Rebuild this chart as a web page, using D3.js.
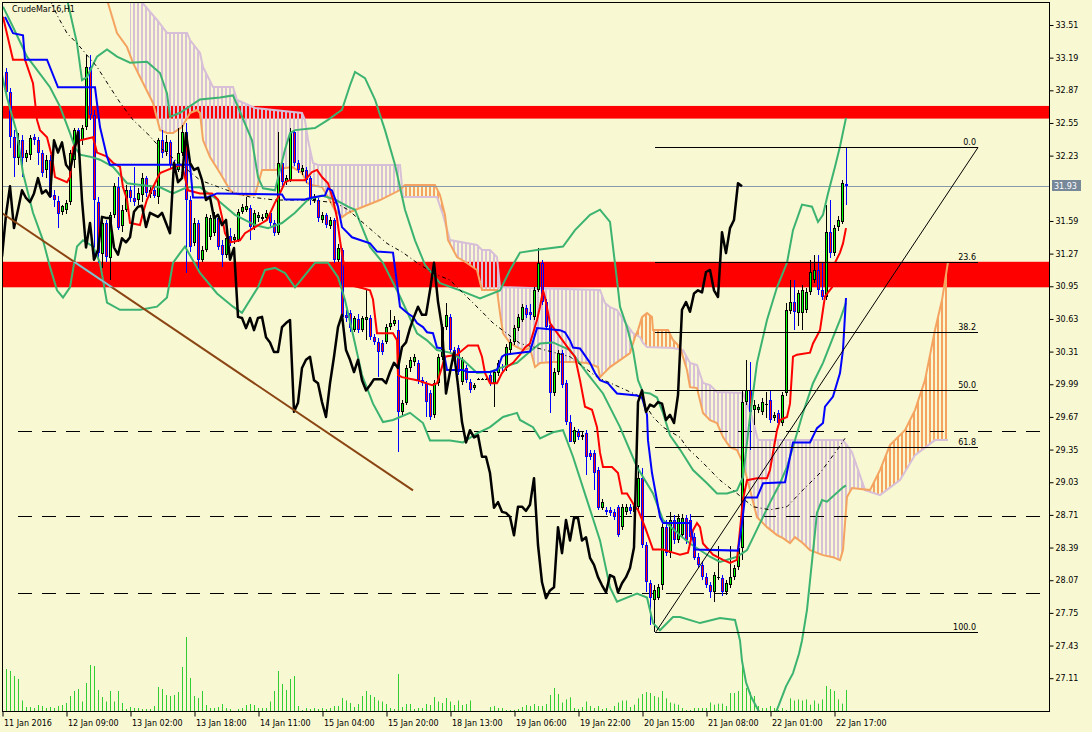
<!DOCTYPE html>
<html><head><meta charset="utf-8">
<script src="https://cdn.jsdelivr.net/npm/d3@7"></script>
<style>html,body{margin:0;padding:0;background:#f8f8d2;overflow:hidden}svg{display:block}</style>
</head><body><svg id="c" width="1092" height="732"></svg>
<script>
// ---------- DATA (CrudeMar16, H1) ----------
const title = "CrudeMar16,H1";
const xTickIdx = [-1,15,31,47,63,79,95,111,127,143,159,175,191,207];
const xTickLabels = ["11 Jan 2016","12 Jan 09:00","13 Jan 02:00","13 Jan 18:00","14 Jan 11:00","15 Jan 04:00","15 Jan 20:00","18 Jan 13:00","19 Jan 06:00","19 Jan 22:00","20 Jan 15:00","21 Jan 08:00","22 Jan 01:00","22 Jan 17:00"];
const yTicks = [33.51,33.19,32.87,32.55,32.23,31.59,31.27,30.95,30.63,30.31,29.99,29.67,29.35,29.03,28.71,28.39,28.07,27.75,27.43,27.11];

const opens = [33.05,32.85,32.41,32.21,32.38,32.21,32.24,32.41,32.38,32.26,
32.09,32.19,31.84,31.79,31.68,31.70,31.775,32.19,32.48,32.38,
32.51,33.10,32.63,31.78,31.27,31.57,31.23,31.65,31.92,31.54,
31.70,31.89,31.815,31.795,31.84,32.01,31.85,31.89,31.825,32.38,
32.27,32.36,32.14,32.09,32.26,32.46,31.795,31.37,31.57,31.21,
31.305,31.43,31.47,31.62,31.35,31.26,31.44,31.40,31.40,31.68,
31.70,31.72,31.53,31.62,31.61,31.62,31.67,31.57,31.47,32.16,
31.97,31.99,32.46,32.16,32.07,32.09,32.01,31.795,31.795,31.60,
31.65,31.54,31.60,31.21,31.305,30.67,30.69,30.52,30.63,30.52,
30.62,30.64,30.45,30.40,30.39,30.40,30.55,30.58,30.52,29.72,
29.81,30.15,30.21,30.20,30.03,29.99,29.90,29.69,30.00,30.26,
30.55,30.65,30.325,30.345,30.01,30.15,30.01,29.95,30.04,30.04,
30.04,30.08,30.00,30.10,30.16,30.15,30.325,30.40,30.54,30.62,
30.74,30.70,30.65,30.91,31.18,30.80,30.57,29.90,30.11,30.30,
30.00,29.62,29.42,29.52,29.47,29.51,29.32,29.32,29.15,28.78,
28.76,28.76,28.74,28.79,28.59,28.74,28.79,28.74,28.79,29.07,
28.415,28.04,27.875,27.895,28.02,28.59,28.335,28.66,28.46,28.51,
28.68,28.66,28.49,28.30,28.22,28.10,28.02,27.95,28.09,28.09,
27.95,28.02,28.10,28.20,28.39,29.815,29.93,29.74,29.74,29.72,
29.79,29.835,29.66,29.71,29.61,29.90,30.71,30.795,30.69,30.69,
30.72,30.89,31.01,31.11,30.91,30.845,31.48,31.275,31.53,31.58,31.95];
const highs = [33.09,32.89,32.48,32.45,32.43,32.29,32.43,32.44,32.41,32.29,
32.24,32.24,31.89,31.83,31.75,31.80,32.29,32.50,32.50,32.53,
33.22,33.22,32.68,31.82,31.60,31.60,31.68,31.96,32.02,31.75,
31.94,31.93,32.12,31.91,32.06,32.03,31.93,31.92,32.40,32.48,
32.43,32.38,32.19,32.50,32.53,32.55,31.83,31.62,31.60,31.34,
31.66,31.65,31.68,31.64,31.40,31.45,31.52,31.46,31.71,31.76,
31.825,31.75,31.70,31.68,31.66,31.70,31.69,31.60,32.46,32.19,
32.04,32.50,32.48,32.19,32.14,32.12,32.03,31.85,31.815,31.68,
31.67,31.63,31.62,31.36,31.325,30.72,30.72,30.66,30.68,30.66,
30.91,30.67,30.48,30.44,30.42,30.58,30.72,30.66,30.62,29.835,
30.18,30.26,30.29,30.23,30.06,30.02,29.93,30.03,30.29,30.58,
30.79,30.68,30.355,30.37,30.26,30.18,30.04,30.00,30.05,30.05,
30.05,30.11,30.14,30.23,30.19,30.38,30.43,30.57,30.68,30.775,
30.77,30.775,30.94,31.325,31.21,30.83,30.60,30.15,30.325,30.325,
30.03,29.69,29.57,29.55,29.52,29.54,29.345,29.345,29.18,28.87,
28.79,28.79,28.77,28.81,28.82,28.82,28.82,28.84,29.20,29.17,
28.44,28.07,28.02,28.03,28.62,28.66,28.74,28.71,28.72,28.72,
28.71,28.72,28.53,28.34,28.26,28.14,28.05,28.15,28.41,28.12,
28.07,28.41,28.22,28.42,29.93,30.23,30.21,29.835,29.80,29.855,
29.91,29.93,29.72,29.74,29.91,30.785,31.01,31.01,30.91,30.96,
30.93,31.21,31.26,31.26,31.19,31.75,31.795,31.55,31.64,31.99,32.315];
const lows = [32.82,32.30,32.02,32.14,32.02,32.17,32.19,32.33,32.14,32.02,
32.01,31.815,31.73,31.52,31.65,31.66,31.75,32.11,32.29,32.33,
32.48,32.58,31.21,31.18,31.13,31.19,31.01,31.62,31.50,31.48,
31.68,31.775,31.74,31.75,31.775,31.825,31.815,31.815,31.76,32.21,
32.23,32.11,32.06,32.07,32.23,31.08,31.285,31.34,31.11,31.19,
31.285,31.40,31.44,31.305,31.14,31.23,31.34,31.36,31.38,31.66,
31.68,31.40,31.50,31.58,31.59,31.60,31.54,31.44,31.45,31.93,
31.94,31.97,32.13,32.06,32.04,31.96,31.75,31.765,31.58,31.57,
31.52,31.51,31.18,31.19,30.62,30.60,30.50,30.50,30.49,30.50,
30.42,30.42,30.37,30.06,30.28,30.38,30.52,30.56,29.325,29.69,
29.79,30.11,30.17,29.99,29.97,29.67,29.64,29.66,29.97,30.23,
30.52,30.30,30.19,30.08,29.98,30.00,29.90,29.93,30.03,30.03,
30.03,29.97,29.77,30.07,30.12,30.12,30.30,30.37,30.51,30.60,
30.64,30.62,30.62,30.89,30.77,30.52,29.71,29.875,30.08,29.95,
29.59,29.42,29.40,29.44,29.44,29.10,29.25,28.95,28.76,28.76,
28.71,28.70,28.66,28.49,28.56,28.71,28.72,28.71,28.76,28.385,
27.95,27.63,27.56,27.875,27.97,28.305,28.29,28.42,28.43,28.48,
28.42,28.46,28.27,28.19,28.07,27.99,27.90,27.855,28.07,27.915,
27.925,27.99,28.07,28.17,28.27,29.79,29.345,29.59,29.71,29.69,
29.66,29.61,29.63,29.58,29.58,29.875,30.68,30.52,30.56,30.52,
30.69,30.865,30.98,30.865,30.815,30.815,31.23,31.25,31.49,31.56,31.75];
const closes = [32.85,32.41,32.21,32.38,32.21,32.26,32.40,32.38,32.26,32.06,
32.19,31.82,31.80,31.66,31.74,31.77,32.26,32.48,32.35,32.50,
33.10,32.63,31.80,31.28,31.57,31.24,31.65,31.93,31.52,31.70,
31.89,31.815,31.775,31.86,32.01,31.86,31.89,31.83,32.38,32.26,
32.36,32.14,32.09,32.26,32.46,31.795,31.33,31.57,31.21,31.305,
31.63,31.62,31.62,31.33,31.26,31.42,31.38,31.43,31.68,31.73,
31.74,31.53,31.67,31.65,31.63,31.67,31.57,31.47,32.16,31.97,
32.01,32.45,32.16,32.09,32.11,31.99,31.795,31.825,31.62,31.65,
31.55,31.60,31.21,31.325,30.65,30.64,30.54,30.64,30.52,30.64,
30.65,30.45,30.40,30.305,30.305,30.55,30.59,30.62,29.72,29.81,
30.15,30.23,30.26,30.03,30.00,29.815,29.67,30.00,30.26,30.55,
30.67,30.325,30.23,30.11,30.23,30.03,29.93,29.98,30.04,30.04,
30.04,30.00,30.11,30.20,30.15,30.355,30.40,30.54,30.65,30.75,
30.67,30.67,30.91,31.18,30.80,30.55,29.90,30.11,30.30,29.98,
29.62,29.42,29.54,29.47,29.49,29.28,29.28,29.12,28.78,28.835,
28.74,28.73,28.69,28.51,28.79,28.79,28.75,28.81,29.07,28.415,
28.05,27.895,27.97,28.00,28.59,28.335,28.66,28.46,28.68,28.68,
28.46,28.49,28.29,28.22,28.10,28.02,27.95,28.12,28.10,27.95,
28.04,28.10,28.19,28.39,29.815,29.93,29.72,29.79,29.77,29.815,
29.80,29.64,29.69,29.61,29.885,30.72,30.795,30.70,30.88,30.91,
30.89,31.09,31.11,30.91,30.845,31.48,31.275,31.52,31.60,31.96,31.93];
const volumes = [42,40,35,32,10.5,4,4,3,6,5, 3,4,3,5,6,8,15,20,22,9.5,
28,46,45,21,14,9.5,20,9.5,20,8, 2,4,3,3,2,2,2,5,24,22,
16,15,16,19,44,74,33,15,13,20, 6,3,3,4,7,3,2,0,2,3,
6,7,6,3,3,3,9.5,20,40,27, 21,32,35,5,1,3,2,3,2,3,
2,3,5,5,13,10.5,8,4,7,15, 20,16,14,10.5,9.5,7,3,2,37,4,
7,7,2,3,3,7,6,14,9.5,8, 13,9.5,6,10.5,6,7,10.5,0,0,0,
0,4,5,3,3,1,1,1,2,4, 6,5,7,5,
5,7,16,23,17,8.5,11.6,13.7,3,2, 4,9.5,5,3,5,2,3,1,5,8.5,
10.5,10.5,4,6.3,12.7,17,19,18,15,13.7, 20,12.7,8.5,7.4,6.3,3,1,1,3,3,
3,3,8.5,6.3,7.4,7.4,5,18,18,20, 50,23,19,15,5,3,3,5,3,1,
3,1,12.7,10.5,11.6,10.5,11.6,6.3,10.5,7.4, 11.6,25,22,20,11.6,7.4,21];

// Ichimoku: [bar index, price]
const tenkan = [[-0.75,33.59],[1.75,33.17],[4.75,33.17],[6.75,32.94],[7.75,32.58],[8.5,32.48],[10.25,32.41],[11.5,32.22],[12.25,32.02],[15.25,31.97],[16,32.02],[16.75,32.31],[18.5,32.38],[21.75,32.41],[22.75,32.26],[25.25,32.22],[26.75,32.16],[28.5,32.12],[29.25,31.92],[30.25,31.80],[31,31.57],[33.5,31.55],[34.25,31.67],[35.25,31.80],[36.75,31.92],[38.5,32.06],[42.25,32.12],[44,32.14],[45.5,31.89],[48.5,31.86],[51.5,31.86],[53,31.80],[54,31.63],[54.75,31.47],[56,31.38],[58.5,31.40],[59.75,31.47],[62.25,31.53],[64,31.57],[65.25,31.60],[67.25,31.77],[68,31.82],[69.75,31.97],[71,31.99],[74.75,31.99],[76.5,32.07],[77.75,32.09],[79,32.02],[80.5,31.96],[81.75,31.80],[82.75,31.62],[83.5,31.40],[84.25,31.21],[86,30.96],[89.25,30.93],[91,30.91],[91.75,30.82],[92.75,30.49],[96.75,30.49],[97.75,30.42],[98,30.08],[99,30.06],[102.75,30.03],[106.5,29.98],[107.75,30.00],[109,30.16],[109.75,30.26],[112.75,30.28],[115.5,30.37],[118,30.37],[119,30.26],[119.75,30.10],[121,30.00],[122.75,30.00],[124,30.10],[125.25,30.16],[126.75,30.20],[128.5,30.28],[129.75,30.35],[131,30.39],[132.75,30.62],[133.5,30.75],[134.25,30.91],[134.75,30.84],[136,30.59],[141,30.32],[142.25,30.26],[143.5,30.03],[144.75,29.77],[146.5,29.74],[147.75,29.57],[148.5,29.32],[149.25,29.18],[151.5,29.18],[153,29.12],[154,28.92],[155.25,28.92],[157.25,28.79],[158,28.76],[159.75,28.59],[161.75,28.37],[164.25,28.37],[166.75,28.34],[168.5,28.32],[170.5,28.34],[171.75,28.56],[172.75,28.63],[173.5,28.59],[174.25,28.43],[176.75,28.32],[179.25,28.27],[181,28.24],[182.75,28.27],[184.25,28.86],[185.25,29.05],[187.75,29.07],[190.25,29.07],[191,29.15],[191.75,29.32],[192.75,29.54],[193.5,29.64],[195.25,29.67],[196,29.80],[196.75,30.26],[197.75,30.28],[201,30.30],[201.75,30.39],[203.5,30.52],[204.25,30.72],[204.75,30.85],[206.5,30.94],[207.25,31.18],[208.5,31.28],[209.25,31.37],[210,31.52]];
const kijun = [[-0.25,33.59],[1.75,33.43],[4.25,33.41],[4.75,33.17],[10.25,33.17],[13,32.90],[22.25,32.90],[23.5,32.51],[25.25,32.22],[26,32.14],[46,32.14],[46.75,31.82],[50.25,31.82],[52.75,31.86],[69,31.85],[69.75,31.80],[74.75,31.80],[76.5,31.82],[79.75,31.84],[80.5,31.91],[81.5,31.89],[83,31.73],[84,31.53],[86.5,31.43],[91,31.37],[92.75,31.29],[96.75,31.28],[98.5,30.75],[100.25,30.69],[101.75,30.65],[102.75,30.59],[104.25,30.55],[105.25,30.50],[106.75,30.49],[107.75,30.35],[109.25,30.34],[110.25,30.13],[114.25,30.13],[115.25,30.11],[121,30.11],[122.75,30.13],[124,30.26],[124.75,30.28],[131,30.31],[132.75,30.54],[138.5,30.52],[139.75,30.50],[141,30.42],[141.75,30.35],[143.5,30.34],[144.25,30.30],[146,30.20],[147.25,30.10],[148.5,30.03],[150.5,30.00],[152.75,29.90],[157.75,29.88],[159,29.86],[160.25,29.69],[160.5,29.44],[161.5,29.12],[163.5,28.69],[164.25,28.63],[171,28.63],[172.25,28.37],[183,28.36],[184,28.63],[184.75,28.88],[187.75,28.88],[189.25,29.02],[194.75,29.03],[196,29.28],[196.75,29.42],[201,29.42],[202.75,29.56],[204.25,29.61],[204.75,29.77],[206.75,29.87],[208.5,30.10],[209.25,30.33],[210,30.835]];
const spanA = [[22.25,34.05],[25.5,33.726],[27.75,33.432],[30.25,33.294],[31.75,33.138],[34.25,32.942],[36.75,32.746],[38.5,32.481],[40.25,32.452],[41.75,32.452],[44,32.51],[46,32.648],[47.75,32.677],[48.5,32.648],[49.25,32.383],[51,32.216],[53.5,32.06],[56,31.893],[56.75,31.864],[59,31.844],[62.25,31.844],[64,32.089],[67.25,32.089],[69.75,32.109],[71.5,32.118],[74,32.06],[75.25,31.962],[76.5,31.942],[79,31.922],[80.5,31.824],[82.25,31.697],[84,31.628],[85.5,31.668],[87.25,31.697],[93.5,31.795],[98.5,31.893],[99.75,31.942],[107.25,31.942],[108.5,31.844],[109.75,31.648],[110.5,31.403],[112.75,31.236],[115.25,31.178],[117.75,31.109],[119,30.913],[122.75,30.913],[123.5,30.687],[124.25,30.49],[126,30.394],[127.75,30.354],[129.25,30.325],[131,30.345],[132.25,30.158],[133.5,30.198],[136.75,30.207],[141.75,30.207],[145.25,30.198],[148,30.158],[148.5,30.06],[149.75,30.109],[151,30.158],[153.5,30.227],[156,30.296],[157.25,30.452],[158,30.521],[159,30.648],[160.25,30.688],[161.5,30.648],[161.75,30.521],[165.5,30.521],[166.75,30.423],[168.5,30.354],[170.25,30.129],[171,29.962],[172.75,29.953],[174.25,29.708],[176,29.639],[177.75,29.61],[179.25,29.472],[181,29.374],[182.75,29.345],[184.25,29.218],[186,28.953],[187.75,28.688],[190.25,28.59],[192.75,28.512],[194.25,28.482],[196,28.433],[197.25,28.492],[199.25,28.433],[201,28.365],[204.25,28.316],[206.75,28.296],[208.5,28.267],[209.25,28.365],[210.25,28.885],[211.5,28.973],[216,28.953],[218.5,29.149],[221,29.394],[224.75,29.541],[227.25,29.737],[229.75,30.031],[232.25,30.521],[234,30.815],[235.5,31.188]];
const spanB = [[31,34.05],[33.5,33.755],[37.75,33.559],[40.25,33.432],[45.25,33.432],[46,33.363],[48.5,33.236],[49.25,33.098],[51.75,32.902],[56.75,32.902],[57.75,32.775],[62.25,32.697],[74,32.648],[74.75,32.579],[75.5,32.383],[76.75,32.158],[78,32.138],[87.25,32.138],[98.5,32.138],[99.25,31.824],[107.75,31.824],[109.25,31.648],[111,31.403],[117.75,31.354],[119,31.305],[121,31.305],[122.75,31.236],[123.5,30.942],[131,30.933],[148.5,30.913],[149.75,30.786],[151,30.746],[152.75,30.717],[155.25,30.57],[156.75,30.492],[158.5,30.452],[159.25,30.394],[160.25,30.354],[166.75,30.345],[169.25,30.325],[171,30.198],[172.75,30.178],[174.25,30.002],[176,29.982],[177.75,29.913],[184.25,29.904],[186.5,29.668],[188,29.443],[209.25,29.443],[211.5,29.325],[214.75,28.953],[218.5,28.904],[223.5,29.051],[227.25,29.296],[232.25,29.443],[235.5,29.443]];
// Bollinger bands
const bbUpper = [[14.75,33.85],[17.75,33.33],[19,32.97],[20.25,33.00],[22.75,33.20],[25.25,33.27],[27.75,33.20],[31,33.14],[35.25,33.15],[38.5,33.04],[40.25,32.84],[41,32.61],[43.5,32.65],[48.5,32.78],[53.5,32.80],[56.75,32.82],[58.5,32.66],[61.5,32.38],[63,32.02],[64.25,31.91],[67.25,31.89],[69.75,32.29],[71,32.45],[72.25,32.48],[77.25,32.50],[80.5,32.58],[84,32.68],[86,32.92],[87.25,33.05],[89.75,32.99],[92.25,32.78],[94.75,32.48],[97.25,32.14],[99.75,31.70],[102.25,31.40],[104.75,31.16],[108.5,30.98],[113.5,30.91],[118.5,30.83],[123.5,30.91],[126,31.11],[128.5,31.28],[133.5,31.31],[139.25,31.34],[142.25,31.50],[146,31.65],[148.5,31.70],[151,31.58],[152.75,31.01],[153.5,30.75],[155.25,30.55],[156.75,30.325],[158,30.03],[159.25,29.91],[161,29.90],[162.75,29.86],[164.25,29.71],[166,29.49],[168.5,29.35],[171.75,29.15],[175.25,29.02],[177.75,28.92],[180.25,28.92],[182.75,28.95],[184.25,29.08],[186,29.67],[187.75,30.20],[190.25,30.62],[192.75,30.94],[195.25,31.18],[196.75,31.50],[199,31.75],[201.5,31.73],[203,31.58],[204.25,31.65],[205.5,31.86],[207.25,32.12],[208.5,32.32],[210,32.60]];
const bbMiddle = [[-0.75,33.69],[1.75,33.49],[5.25,33.20],[7.75,33.07],[11,32.90],[13.5,32.71],[16,32.45],[17.25,32.31],[18.5,32.24],[21,32.22],[23.5,32.19],[26.75,32.12],[30.25,31.96],[34.25,31.94],[38.5,31.92],[41.75,31.86],[45.25,31.92],[48.5,31.92],[52.75,31.80],[57.25,31.65],[62.25,31.55],[65.5,31.52],[69,31.57],[72.25,31.67],[75.5,31.80],[79,31.84],[82.25,31.80],[85.5,31.73],[87.25,31.70],[91,31.335],[94.25,31.18],[98.5,30.85],[102.75,30.49],[105.25,30.42],[107.75,30.325],[111,30.30],[114.25,30.23],[117.75,30.10],[121,30.11],[124.25,30.16],[127.75,30.20],[131,30.31],[133.5,30.39],[136.75,30.40],[141,30.325],[145.25,30.10],[149.25,29.90],[153.5,29.57],[157.75,29.18],[161.75,28.92],[164.25,28.66],[168.5,28.51],[171,28.43],[176,28.30],[178.5,28.25],[182.75,28.30],[185.25,28.365],[188.5,28.63],[191,28.83],[193.5,29.02],[195.25,29.18],[197.75,29.51],[199.25,29.71],[201.75,30.00],[204.25,30.20],[206.75,30.45],[208.5,30.62],[210,30.79]];
const bbLower = [[-1,33.02],[0.25,32.80],[2.75,32.45],[4.25,32.06],[6.75,31.67],[9.25,31.40],[11,31.14],[12.75,30.91],[14.25,30.84],[16,30.94],[17.75,31.34],[19.25,31.40],[21.75,31.34],[23.5,31.18],[25.25,30.79],[28.5,30.72],[33.5,30.72],[37.75,30.75],[40.25,30.84],[41.75,31.18],[43.5,31.275],[44.75,31.34],[48.5,31.08],[52.75,30.88],[56.75,30.75],[59,30.69],[63,30.94],[64.75,31.11],[67.25,31.13],[69.75,31.08],[72.25,30.94],[74.75,31.06],[77.25,31.18],[80.5,31.18],[83,31.04],[84.75,30.815],[86.5,30.52],[89,30.08],[91.75,29.80],[94.25,29.62],[96.75,29.64],[101,29.71],[104.25,29.61],[106,29.44],[111,29.44],[114.25,29.42],[117.75,29.51],[121,29.57],[124.25,29.67],[127.75,29.71],[128.5,29.64],[131.75,29.57],[133.5,29.46],[136.75,29.52],[139.25,29.54],[141.75,29.28],[145.25,28.855],[148.5,28.46],[151,28.00],[152.75,27.86],[155.25,27.90],[157.75,27.94],[160.25,27.90],[161.75,27.65],[163.5,27.58],[166.75,27.71],[168.5,27.71],[173.5,27.65],[178.5,27.70],[182.25,27.68],[183.5,27.48],[184,27.28],[185,27.07],[186.25,26.93],[188,26.80],[189.75,26.68],[191.5,26.68],[193.25,26.85],[195,27.03],[196.75,27.16],[198.25,27.35],[199,27.48],[200.25,27.78],[202.75,28.73],[204,28.855],[205.25,28.84],[209.25,28.98],[210,29.00]];
// slow moving average (dash-dot)
const maSlow = [[11,33.755],[13,33.59],[15.25,33.43],[17.75,33.33],[22.75,33.10],[26,32.90],[28.5,32.75],[31.75,32.58],[35.25,32.45],[38.5,32.31],[48.5,31.99],[56.75,31.87],[61,31.825],[67.25,31.795],[75.5,31.795],[82.25,31.77],[85.5,31.70],[95.25,31.37],[99.25,31.28],[102.75,31.18],[106.75,31.08],[111,31.01],[115.25,30.845],[119.25,30.69],[121.75,30.59],[128.5,30.39],[141,30.26],[147.75,30.06],[153.5,29.96],[158.5,29.87],[161.75,29.67],[164.25,29.57],[168.5,29.47],[170.25,29.37],[174.25,29.22],[178.5,29.05],[182.75,28.92],[186.75,28.79],[191,28.76],[195.25,28.79],[199.25,28.955],[203.5,29.12],[207.75,29.345],[209.75,29.46]];

// drawn objects
const zones = [[32.717,32.593],[31.19,30.94]];
const hLevels = [29.53,28.70,27.94];
const trendLine = [[-1.5,31.68],[101.75,28.95]];
const fibHigh = 32.31, fibLow = 27.565, fibStart = 162.25, fibEnd = 243;
const fibLevels = [0,23.6,38.2,50,61.8,100];
const fibLabels = ["0.0","23.6","38.2","50.0","61.8","100.0"];
const chikouShift = 26;

// ---------- DRAW ----------
const W=1092,H=732, X0=2,Y0=2,X1=1049,Y1=711;
const FONT='"DejaVu Sans", Verdana, sans-serif';
const svg=d3.select('#c');
svg.append('rect').attr('width',W).attr('height',H).attr('fill','#f8f8d2');
const x=d3.scaleLinear().domain([0,210]).range([6,846]);
const y=d3.scaleLinear().domain([27.11,33.51]).range([678.2,25]);
const yv=d3.scaleLinear().domain([0,100]).range([Y1,Y1-100]);
const px=d=>x(d[0]), py=d=>y(d[1]);
const line=d3.line().x(px).y(py);

const defs=svg.append('defs');
defs.append('clipPath').attr('id','plotClip').append('rect').attr('x',X0).attr('y',Y0).attr('width',X1-X0).attr('height',Y1-Y0);
function hatch(id,color){
  const p=defs.append('pattern').attr('id',id).attr('patternUnits','userSpaceOnUse').attr('width',4).attr('height',4);
  p.append('rect').attr('x',1).attr('y',0).attr('width',2).attr('height',4).attr('fill',color);
}
hatch('hLav','#d8bfd8'); hatch('hOr','#f4a460');
const aboveArea=d3.area().x(px).y0(-300).y1(py);
const belowArea=d3.area().x(px).y0(py).y1(1000);
defs.append('clipPath').attr('id','cAboveA').append('path').attr('d',aboveArea(spanA));
defs.append('clipPath').attr('id','cBelowA').append('path').attr('d',belowArea(spanA));
defs.append('clipPath').attr('id','cAboveB').append('path').attr('d',aboveArea(spanB));
defs.append('clipPath').attr('id','cBelowB').append('path').attr('d',belowArea(spanB));
const zc=defs.append('clipPath').attr('id','zoneClip');
zones.forEach(z=>zc.append('rect').attr('x',X0).attr('width',X1-X0).attr('y',y(z[0])).attr('height',y(z[1])-y(z[0])));

const plot=svg.append('g').attr('clip-path','url(#plotClip)');
// resistance zones
plot.selectAll('rect.zone').data(zones).join('rect').attr('class','zone')
  .attr('x',X0).attr('width',X1-X0).attr('y',d=>y(d[0])).attr('height',d=>y(d[1])-y(d[0])).attr('fill','#ff0000');
// cloud
plot.append('g').attr('clip-path','url(#cBelowB)').append('rect').attr('clip-path','url(#cAboveA)')
  .attr('x',X0).attr('y',Y0).attr('width',X1-X0).attr('height',Y1-Y0).attr('fill','url(#hLav)');
plot.append('g').attr('clip-path','url(#cBelowA)').append('rect').attr('clip-path','url(#cAboveB)')
  .attr('x',X0).attr('y',Y0).attr('width',X1-X0).attr('height',Y1-Y0).attr('fill','url(#hOr)');
plot.append('path').attr('d',line(spanB)).attr('fill','none').attr('stroke','#d8bfd8').attr('stroke-width',2);
plot.append('path').attr('d',line(spanA)).attr('fill','none').attr('stroke','#f4a460').attr('stroke-width',2);
// current price line
const last=closes[closes.length-1];
plot.append('line').attr('x1',X0).attr('x2',X1).attr('y1',Math.round(y(last))+0.5).attr('y2',Math.round(y(last))+0.5).attr('stroke','#8899aa').attr('stroke-width',1);
// horizontal dashed levels
plot.selectAll('line.hl').data(hLevels).join('line').attr('class','hl')
  .attr('x1',X0+16).attr('x2',X1).attr('y1',d=>Math.round(y(d))+0.5).attr('y2',d=>Math.round(y(d))+0.5)
  .attr('stroke','#000').attr('stroke-width',1).attr('stroke-dasharray','14,10');
// volumes
plot.selectAll('line.vol').data(volumes).join('line').attr('class','vol')
  .attr('x1',(d,i)=>x(i)+0.5).attr('x2',(d,i)=>x(i)+0.5).attr('y1',yv(0)).attr('y2',d=>yv(d))
  .attr('stroke','#32cd32').attr('stroke-width',1);
// candles
const cg=plot.append('g').attr('shape-rendering','crispEdges');
closes.forEach((c,i)=>{
  const o=opens[i], up=c>=o, col=up?'#000000':'#0000ff', fill=up?'#00ff00':'#ff0000';
  const cx=x(i);
  cg.append('line').attr('x1',cx+0.5).attr('x2',cx+0.5).attr('y1',y(highs[i])).attr('y2',y(lows[i])).attr('stroke',col);
  const top=y(Math.max(o,c)), bot=y(Math.min(o,c));
  cg.append('rect').attr('x',cx-1).attr('y',top).attr('width',3).attr('height',Math.max(1,bot-top)).attr('fill',col);
  if(bot-top>2) cg.append('rect').attr('x',cx).attr('y',top+1).attr('width',1).attr('height',bot-top-2).attr('fill',fill);
});
// bollinger
[bbUpper,bbMiddle,bbLower].forEach(b=>plot.append('path').attr('d',line(b)).attr('fill','none').attr('stroke','#3cb371').attr('stroke-width',2));
// slow MA dash-dot
plot.append('path').attr('d',line(maSlow)).attr('fill','none').attr('stroke','#000').attr('stroke-width',1).attr('stroke-dasharray','4,3,1,3');
// tenkan / kijun
plot.append('path').attr('d',line(tenkan)).attr('fill','none').attr('stroke','#ff0000').attr('stroke-width',2);
plot.append('path').attr('d',line(kijun)).attr('fill','none').attr('stroke','#0000ff').attr('stroke-width',2);
// chikou (close shifted back)
const chikou=closes.map((c,i)=>[i-chikouShift,c]).filter(d=>d[0]>=-1);
plot.append('path').attr('d',line(chikou)).attr('fill','none').attr('stroke','#000').attr('stroke-width',2.5).attr('stroke-linejoin','round');
// trendline
plot.append('path').attr('d',line(trendLine)).attr('stroke','#8b4513').attr('stroke-width',2);
plot.append('g').attr('clip-path','url(#zoneClip)').append('path').attr('d',line(trendLine)).attr('stroke','#87bfd0').attr('stroke-width',2);
// fibonacci
const fg=plot.append('g').attr('shape-rendering','crispEdges');
fibLevels.forEach((lv,k)=>{
  const p=fibHigh-(fibHigh-fibLow)*lv/100, yy=Math.round(y(p))+0.5;
  fg.append('line').attr('x1',x(fibStart)).attr('x2',x(fibEnd)).attr('y1',yy).attr('y2',yy).attr('stroke','#000');
  plot.append('text').attr('x',x(fibEnd)-2).attr('y',yy-3).attr('text-anchor','end')
    .attr('font-family',FONT).attr('font-size',8).attr('fill','#000').text(fibLabels[k]);
});
plot.append('path').attr('d',line([[fibStart+0.25,fibLow],[fibEnd,fibHigh]])).attr('stroke','#000').attr('stroke-width',1);

// frame
svg.append('rect').attr('x',X0+0.5).attr('y',Y0+0.5).attr('width',X1-X0).attr('height',Y1-Y0).attr('fill','none').attr('stroke','#000').attr('shape-rendering','crispEdges');
// axes
const ya=svg.append('g').attr('transform',`translate(${X1+0.5},0)`)
  .call(d3.axisRight(y).tickValues(yTicks).tickSize(4).tickPadding(2).tickFormat(d3.format('.2f')));
ya.select('.domain').remove();
ya.selectAll('text').attr('font-family',FONT).attr('font-size',8).attr('fill','#000');
ya.selectAll('line').attr('stroke','#000');
const xa=svg.append('g').attr('transform',`translate(0.5,${Y1+0.5})`)
  .call(d3.axisBottom(x).tickValues(xTickIdx).tickSize(5).tickPadding(4).tickFormat((d,k)=>xTickLabels[k]));
xa.select('.domain').remove();
xa.selectAll('text').attr('font-family',FONT).attr('font-size',8).attr('fill','#000').attr('text-anchor','start').attr('dx',1);
xa.selectAll('line').attr('stroke','#000');
// price label
const ly=Math.round(y(last));
svg.append('rect').attr('x',X1+3).attr('y',ly-6).attr('width',29).attr('height',11).attr('fill','#778899');
svg.append('text').attr('x',X1+5).attr('y',ly+3).attr('font-family',FONT).attr('font-size',8).attr('fill','#fff').text(last.toFixed(2));
// title
svg.append('text').attr('x',12).attr('y',12).attr('font-family',FONT).attr('font-size',8).attr('fill','#000').text(title);
</script></body></html>
